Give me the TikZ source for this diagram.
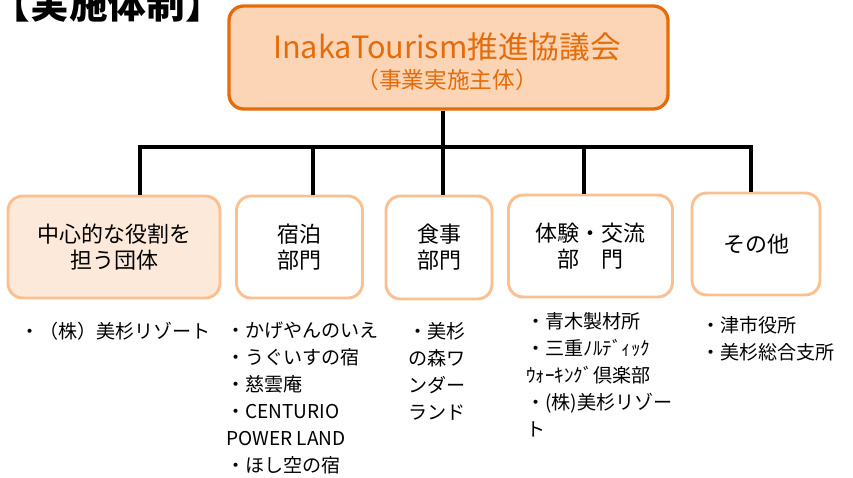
\documentclass[tikz,border=0pt]{standalone}
\usepackage{fontspec}
\setmainfont{Noto Sans CJK JP}
\definecolor{topfill}{HTML}{FBD5B5}
\definecolor{topline}{HTML}{E46C0A}
\definecolor{boxline}{HTML}{FAC090}
\definecolor{keyfill}{HTML}{FDE9D9}
\begin{document}
\begin{tikzpicture}[x=0.75pt,y=-0.75pt,
  topbox/.style={draw=topline, fill=topfill, line width=2.5pt, rounded corners=11pt,
    minimum width=329.25pt, minimum height=77.25pt, inner sep=0pt},
  unit/.style={draw=boxline, fill=white, line width=2.2pt, rounded corners=11pt,
    inner sep=0pt, align=center, minimum height=76.5pt,
    font=\fontsize{16.5}{19.5}\selectfont},
  conn/.style={line width=3pt, draw=black},
  item/.style={anchor=north west, align=left, inner sep=0pt,
    font=\fontsize{14.3}{20.2}\selectfont}]
\useasboundingbox (0,0) rectangle (853,478);

\node[anchor=base, inner sep=0pt, font=\fontsize{29}{33}\selectfont\bfseries] (title) at (108,19) {【実施体制】};

\node[topbox] (top) at (448.5,57.5) {};
\node[inner sep=0pt, text=topline, font=\fontsize{23}{27}\selectfont] (tt1) at (447,47) {InakaTourism推進協議会};
\node[inner sep=0pt, text=topline, font=\fontsize{17}{20}\selectfont] (tt2) at (447,80) {（事業実施主体）};

\node[unit, fill=keyfill, minimum width=159pt] (b1) at (114,247) {中心的な役割を\\担う団体};
\node[unit, minimum width=94.5pt] (b2) at (299.5,247) {宿泊\\部門};
\node[unit, minimum width=79.5pt, minimum height=77.25pt] (b3) at (439,247.5) {食事\\部門};
\node[unit, minimum width=123pt] (b4) at (590.5,246) {体験・交流\\部　門};
\node[unit, minimum width=96pt] (b5) at (756,244) {その他};

\coordinate (h1) at (140,147);
\coordinate (h2) at (313,147);
\coordinate (h3) at (443,147);
\coordinate (h4) at (584,147);
\coordinate (h5) at (751,147);

\draw[conn] (h3 |- top.south) -- (h3 |- b3.north);
\draw[conn] (h1 |- b1.north) -- (h1) -- (h5) -- (h5 |- b5.north);
\draw[conn] (h2) -- (h2 |- b2.north);
\draw[conn] (h4) -- (h4 |- b4.north);

\node[item] (l1) at (20,322) {・（株）美杉リゾート};
\node[item] (l2) at (226,322) {・かげやんのいえ\\・うぐいすの宿\\・慈雲庵\\・CENTURIO\\POWER LAND\\・ほし空の宿};
\node[item] (l3) at (408,322) {・美杉\\の森ワ\\ンダー\\ランド};
\node[item] (l4) at (526,312) {・青木製材所\\・三重ﾉﾙﾃﾞｨｯｸ\\ｳｫｰｷﾝｸﾞ倶楽部\\・(株)美杉リゾー\\ト};
\node[item] (l5) at (701,316) {・津市役所\\・美杉総合支所};
\end{tikzpicture}
\end{document}
